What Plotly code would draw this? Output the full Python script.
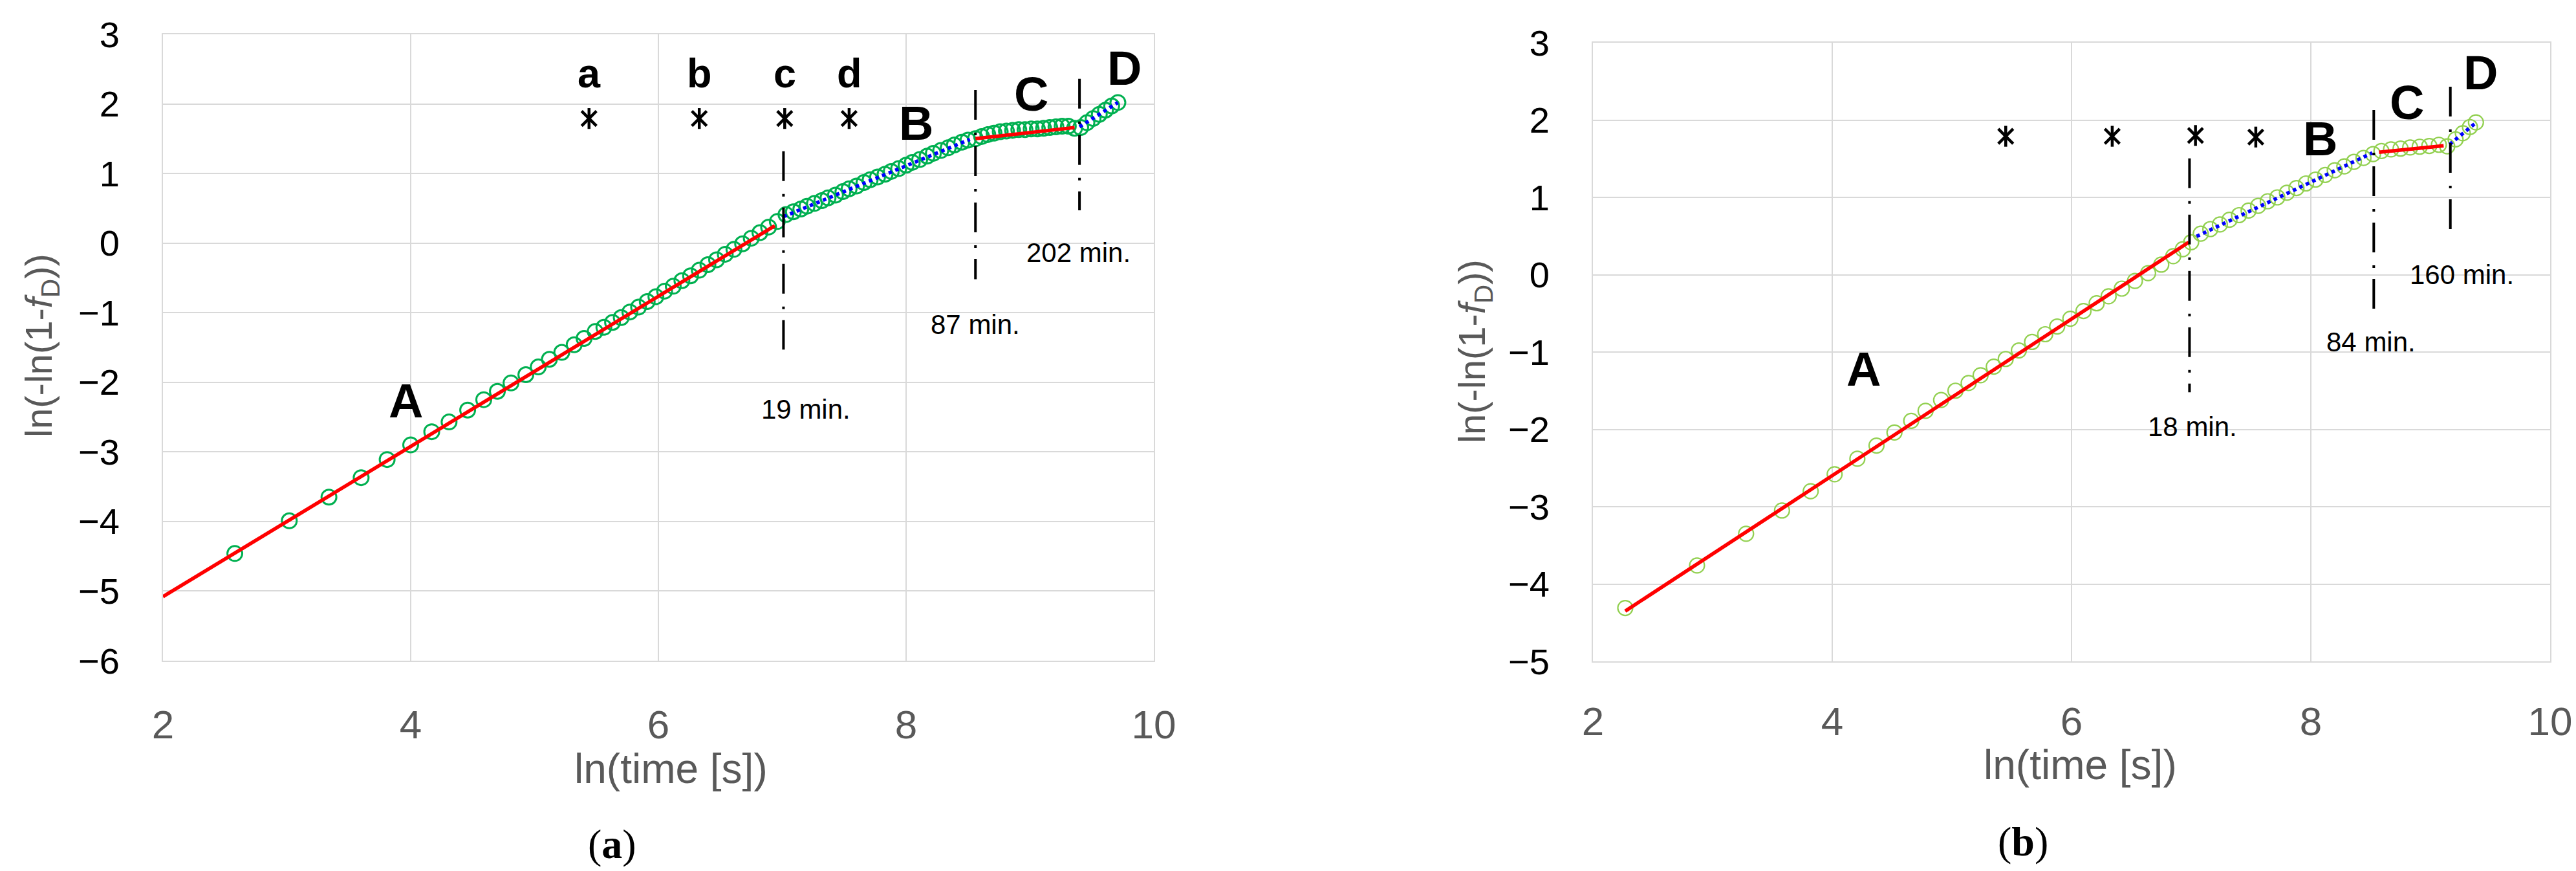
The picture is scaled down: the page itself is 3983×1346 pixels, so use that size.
import plotly.graph_objects as go

# ── data ─────────────────────────────────────────────────────
# panel (a)
a_x = [2.58, 3.02, 3.34, 3.60, 3.81, 4.00, 4.17, 4.31, 4.46, 4.59, 4.70, 4.81, 4.93, 5.03,
       5.12, 5.22, 5.32, 5.40, 5.49, 5.56, 5.63, 5.70, 5.77, 5.84, 5.91, 5.98, 6.05, 6.12,
       6.19, 6.26, 6.33, 6.40, 6.47, 6.54, 6.61, 6.68, 6.75, 6.82, 6.89, 6.96, 7.03, 7.09,
       7.15, 7.20, 7.26, 7.32, 7.37, 7.43, 7.49, 7.54, 7.60, 7.66, 7.71, 7.77, 7.83, 7.88,
       7.94, 8.00, 8.05, 8.11, 8.17, 8.22, 8.28, 8.34, 8.39, 8.45, 8.50, 8.56, 8.61, 8.66,
       8.71, 8.76, 8.81, 8.86, 8.91, 8.96, 9.01, 9.06, 9.11, 9.16, 9.21, 9.26, 9.31, 9.36,
       9.41, 9.46, 9.51, 9.56, 9.61, 9.66, 9.71]
a_y = [-4.46, -3.99, -3.65, -3.37, -3.11, -2.90, -2.71, -2.57, -2.40, -2.25, -2.13, -2.01,
       -1.89, -1.78, -1.67, -1.57, -1.46, -1.37, -1.27, -1.21, -1.14, -1.07, -0.99, -0.92,
       -0.84, -0.77, -0.69, -0.62, -0.54, -0.47, -0.39, -0.31, -0.24, -0.16, -0.09, -0.01,
       0.07, 0.15, 0.23, 0.31, 0.41, 0.45, 0.49, 0.53, 0.57, 0.61, 0.65, 0.69, 0.74, 0.78,
       0.82, 0.87, 0.91, 0.95, 0.99, 1.03, 1.07, 1.12, 1.16, 1.20, 1.25, 1.29, 1.33, 1.37,
       1.41, 1.45, 1.48, 1.50, 1.53, 1.56, 1.58, 1.60, 1.61, 1.62, 1.63, 1.63, 1.64, 1.64,
       1.65, 1.66, 1.67, 1.68, 1.68, 1.65, 1.66, 1.73, 1.79, 1.85, 1.91, 1.97, 2.02]

# fitted segments A-D: [x0, x1], [y0, y1]
a_fits = [
    ([2.00, 6.94], [-5.08, 0.25], "red"),
    ([7.01, 8.515], [0.38, 1.49], "blue"),
    ([8.56, 9.36], [1.50, 1.66], "red"),
    ([9.40, 9.71], [1.67, 2.02], "blue"),
]
a_marks_x = [5.44, 6.33, 7.02, 7.54]
a_marks_y = [1.79, 1.79, 1.79, 1.79]
a_marks_txt = ["a", "b", "c", "d"]
a_marks_txt_y = 2.44
a_bounds = [7.01, 8.56, 9.40]
a_bounds_top = [1.32, 2.20, 2.36]
a_bounds_bot = [-1.53, -0.52, 0.47]
a_times = ["19 min.", "87 min.", "202 min."]
a_times_x = [7.19, 8.56, 9.39]
a_times_y = [-2.39, -1.17, -0.14]
a_stage = ["A", "B", "C", "D"]
a_stage_x = [3.96, 8.08, 9.01, 9.76]
a_stage_y = [-2.27, 1.72, 2.14, 2.51]

# panel (b)
b_x = [2.27, 2.87, 3.28, 3.58, 3.82, 4.02, 4.21, 4.37, 4.52, 4.66, 4.78, 4.91, 5.03, 5.14,
       5.24, 5.35, 5.45, 5.56, 5.67, 5.78, 5.88, 5.99, 6.10, 6.21, 6.31, 6.42, 6.53, 6.64,
       6.75, 6.85, 6.93, 7.00, 7.08, 7.16, 7.24, 7.32, 7.40, 7.48, 7.56, 7.64, 7.72, 7.80,
       7.88, 7.96, 8.04, 8.12, 8.20, 8.28, 8.36, 8.44, 8.52, 8.59, 8.67, 8.75, 8.83, 8.91,
       8.99, 9.07, 9.14, 9.21, 9.27, 9.33, 9.38]
b_y = [-4.31, -3.76, -3.35, -3.05, -2.80, -2.58, -2.38, -2.21, -2.04, -1.89, -1.76, -1.62,
       -1.50, -1.40, -1.30, -1.19, -1.09, -0.98, -0.87, -0.77, -0.67, -0.57, -0.47, -0.37,
       -0.28, -0.18, -0.08, 0.02, 0.13, 0.24, 0.33, 0.42, 0.53, 0.59, 0.65, 0.71, 0.77, 0.83,
       0.89, 0.95, 1.00, 1.06, 1.12, 1.18, 1.23, 1.29, 1.35, 1.40, 1.46, 1.51, 1.56, 1.60,
       1.62, 1.63, 1.645, 1.655, 1.665, 1.68, 1.66, 1.75, 1.83, 1.91, 1.97]
b_fits = [
    ([2.27, 6.98], [-4.35, 0.42], "red"),
    ([7.045, 8.514], [0.495, 1.575], "blue"),
    ([8.57, 9.11], [1.583, 1.667], "red"),
    ([9.16, 9.38], [1.686, 1.965], "blue"),
]
b_marks_x = [5.45, 6.34, 7.036, 7.54]
b_marks_y = [1.79, 1.79, 1.80, 1.78]
b_bounds = [6.986, 8.526, 9.166]
b_bounds_top = [1.505, 2.13, 2.43]
b_bounds_bot = [-1.52, -0.515, 0.49]
b_times = ["18 min.", "84 min.", "160 min."]
b_times_x = [7.01, 8.50, 9.26]
b_times_y = [-1.97, -0.87, 0.00]
b_stage = ["A", "B", "C", "D"]
b_stage_x = [4.26, 8.08, 8.80, 9.42]
b_stage_y = [-1.22, 1.76, 2.23, 2.61]

# ── style ────────────────────────────────────────────────────
W, H = 3983, 1346
_GRID = "#D9D9D9"
_GRAY = "#595959"
_RED = "#FF0000"
_BLUE = "#0000FF"
_SANS = "Liberation Sans, Arial, sans-serif"
_SERIF = "Liberation Serif, Times New Roman, serif"
_DASHDOT = "46px,20px,4px,17px"


def px_x(p):
    return p / W


def px_y(p):
    return 1 - p / H


fig = go.Figure()


def add_panel(fig, xs, ys, fits, mx, my, green, lw, xa, ya):
    fig.add_trace(go.Scatter(
        x=xs, y=ys, mode="markers", xaxis=xa, yaxis=ya,
        marker=dict(symbol="circle-open", size=23, color=green, line=dict(width=lw, color=green)),
    ))
    for fx, fy, col in fits:
        fig.add_trace(go.Scatter(
            x=fx, y=fy, mode="lines", xaxis=xa, yaxis=ya,
            line=dict(color=_RED if col == "red" else _BLUE, width=5.5,
                      dash="solid" if col == "red" else "dot"),
        ))
    # star marker = x plus vertical bar
    for sym in ("x-thin-open", "line-ns-open"):
        fig.add_trace(go.Scatter(
            x=mx, y=my, mode="markers", xaxis=xa, yaxis=ya,
            marker=dict(symbol=sym, size=23, color="black",
                        line=dict(width=4.5, color="black")),
        ))


add_panel(fig, a_x, a_y, a_fits, a_marks_x, a_marks_y, "#00B050", 3, "x", "y")
add_panel(fig, b_x, b_y, b_fits, b_marks_x, b_marks_y, "#92D050", 2.2, "x2", "y2")

shapes = []
for xr, yr, bx, bt, bb in (("x", "y", a_bounds, a_bounds_top, a_bounds_bot),
                           ("x2", "y2", b_bounds, b_bounds_top, b_bounds_bot)):
    for x0, t, b in zip(bx, bt, bb):
        shapes.append(dict(type="line", xref=xr, yref=yr, x0=x0, x1=x0, y0=t, y1=b,
                           line=dict(color="black", width=4, dash=_DASHDOT)))

ann = []
for xr, yr, lx, ly, lt in (("x", "y", a_stage_x, a_stage_y, a_stage),
                           ("x2", "y2", b_stage_x, b_stage_y, b_stage)):
    for x, y, t in zip(lx, ly, lt):
        ann.append(dict(x=x, y=y, xref=xr, yref=yr, text=f"<b>{t}</b>", showarrow=False,
                        font=dict(family=_SANS, size=74, color="black")))
for x, t in zip(a_marks_x, a_marks_txt):
    ann.append(dict(x=x, y=a_marks_txt_y, xref="x", yref="y", text=f"<b>{t}</b>",
                    showarrow=False, font=dict(family=_SANS, size=63, color="black")))
for xr, yr, tx, ty, tt in (("x", "y", a_times_x, a_times_y, a_times),
                           ("x2", "y2", b_times_x, b_times_y, b_times)):
    for x, y, t in zip(tx, ty, tt):
        ann.append(dict(x=x, y=y, xref=xr, yref=yr, text=t, showarrow=False,
                        font=dict(family=_SANS, size=42, color="black")))

# axis titles and panel captions (paper coords, centred on the given pixel)
ytitle = "ln(-ln(1-<i>f</i><sub>D</sub>))"
for cx, cy in ((56, 526), (2272, 535)):
    ann.append(dict(x=px_x(cx), y=px_y(cy), xref="paper", yref="paper", text=ytitle,
                    textangle=-90, showarrow=False, xanchor="center", yanchor="middle",
                    font=dict(family=_SANS, size=58, color=_GRAY)))
for cx, cy in ((1029, 1180), (3208, 1174)):
    ann.append(dict(x=px_x(cx), y=px_y(cy), xref="paper", yref="paper", text="ln(time [s])",
                    showarrow=False, xanchor="center", yanchor="middle",
                    font=dict(family=_SANS, size=64, color=_GRAY)))
for cx, cy, t in ((938, 1296, "a"), (3120, 1292, "b")):
    ann.append(dict(x=px_x(cx), y=px_y(cy), xref="paper", yref="paper", text=f"(<b>{t}</b>)",
                    showarrow=False, xanchor="center", yanchor="middle",
                    font=dict(family=_SERIF, size=64, color="black")))


def xaxis(dom, anchor, standoff):
    return dict(domain=dom, anchor=anchor, range=[2, 10], dtick=2, tick0=2,
                showgrid=True, gridcolor=_GRID, gridwidth=2, zeroline=False,
                showline=True, linecolor=_GRID, linewidth=2, mirror=True,
                ticks="", ticklabelstandoff=standoff, automargin=False,
                tickfont=dict(family=_SANS, size=62, color=_GRAY))


def yaxis(dom, anchor, rng):
    return dict(domain=dom, anchor=anchor, range=rng, dtick=1,
                showgrid=True, gridcolor=_GRID, gridwidth=2, zeroline=False,
                showline=True, linecolor=_GRID, linewidth=2, mirror=True,
                ticks="", ticklabelstandoff=54, automargin=False,
                tickfont=dict(family=_SANS, size=56, color="black"))


fig.update_layout(
    width=W, height=H,
    paper_bgcolor="white", plot_bgcolor="white",
    margin=dict(l=0, r=0, t=0, b=0, autoexpand=False),
    showlegend=False,
    xaxis=xaxis([px_x(244), px_x(1776)], "y", 44),
    yaxis=yaxis([px_y(1013), px_y(45)], "x", [-6, 3]),
    xaxis2=xaxis([px_x(2455), px_x(3935)], "y2", 38),
    yaxis2=yaxis([px_y(1014), px_y(58)], "x2", [-5, 3]),
    shapes=shapes,
    annotations=ann,
)

fig.write_html("out.html")
